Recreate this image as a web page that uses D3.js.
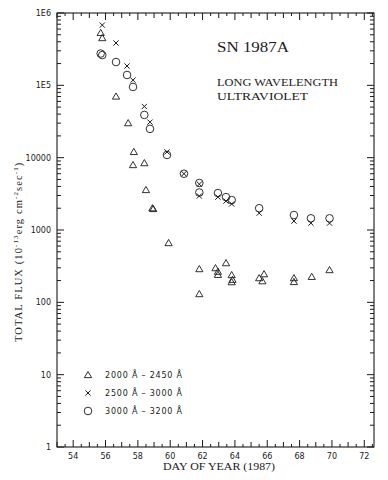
<!DOCTYPE html>
<html>
<head>
<meta charset="utf-8">
<script src="https://cdn.jsdelivr.net/npm/d3@7"></script>
<style>
	body { margin: 0; background: #fff; }
	svg { display: block; }
</style>
</head>
<body>
<svg id="chart" width="388" height="480"></svg>
<script>

// values
const days2000 = [55.7, 55.8, 56.65, 57.4, 57.75, 57.7, 58.4, 58.5, 58.9, 58.95, 59.9, 61.8, 61.8, 62.8, 62.95, 62.95, 63.45, 63.8, 63.85, 63.8, 65.5, 65.7, 65.8, 67.65, 67.65, 68.75, 69.85];
const flux2000 = [530000, 450000, 70000, 30000, 12000, 7900, 8400, 3570, 2000, 1950, 660, 288, 130, 297, 265, 240, 348, 238, 205, 190, 216, 196, 245, 216, 191, 225, 279];

const days2500 = [55.8, 56.65, 57.33, 57.7, 58.4, 58.75, 59.8, 60.85, 61.8, 61.8, 62.95, 63.45, 63.8, 65.5, 67.65, 68.7, 69.85];
const flux2500 = [680000, 385000, 185000, 118000, 51000, 31000, 12000, 6000, 4300, 2950, 2850, 2510, 2290, 1710, 1330, 1245, 1245];

const days3000 = [55.7, 55.8, 56.65, 57.33, 57.7, 58.4, 58.75, 59.8, 60.85, 61.8, 61.8, 62.95, 63.45, 63.8, 65.5, 67.65, 68.7, 69.85];
const flux3000 = [275000, 262000, 210000, 139000, 95000, 39000, 25000, 10900, 6000, 4470, 3300, 3240, 2850, 2590, 2000, 1610, 1450, 1450];

const xTickValues = [54, 56, 58, 60, 62, 64, 66, 68, 70, 72];
const yTickValues = [1, 10, 100, 1000, 10000, 1e5, 1e6];
const yTickLabels = ["1", "10", "100", "1000", "10000", "1E5", "1E6"];

const legendLabels = ["2000 \u00c5 \u2013 2450 \u00c5", "2500 \u00c5 \u2013 3000 \u00c5", "3000 \u00c5 \u2013 3200 \u00c5"];
const legendSymbols = ["triangle", "cross", "circle"];

const svg = d3.select("#chart");
const plotLeft = 57, plotRight = 374, plotTop = 13, plotBottom = 447;

const x = d3.scaleLinear().domain([53, 72.6]).range([plotLeft, plotRight]);
const y = d3.scaleLog().domain([1, 1e6]).range([plotBottom, plotTop]);

const ink = "#1a1a1a";
const labelFont = "'DejaVu Sans', sans-serif";
const serifFont = "'Liberation Serif', 'DejaVu Serif', serif";

// frame
svg.append("rect")
	.attr("x", plotLeft).attr("y", plotTop)
	.attr("width", plotRight - plotLeft).attr("height", plotBottom - plotTop)
	.attr("fill", "none").attr("stroke", ink).attr("stroke-width", 1.1);

// x ticks every half day, inward, top and bottom
const xTicks = d3.range(53, 72.6, 0.5);
function xLen(d) {
	if (d % 2 === 0) return 7;
	if (d % 1 === 0) return 5;
	return 3;
}
const xg = svg.append("g").attr("stroke", ink).attr("stroke-width", 1);
xg.selectAll(".xb").data(xTicks).enter().append("line")
	.attr("x1", d => x(d)).attr("x2", d => x(d))
	.attr("y1", plotBottom).attr("y2", d => plotBottom - xLen(d));
xg.selectAll(".xt").data(xTicks).enter().append("line")
	.attr("x1", d => x(d)).attr("x2", d => x(d))
	.attr("y1", plotTop).attr("y2", d => plotTop + xLen(d));

svg.append("g").selectAll("text").data(xTickValues).enter().append("text")
	.attr("x", d => x(d)).attr("y", plotBottom + 12)
	.attr("text-anchor", "middle")
	.attr("font-family", labelFont).attr("font-size", 8).attr("fill", ink)
	.text(d => d);

// y ticks, log minor ticks
const yTicks = [];
for (let e = 0; e < 6; e++) {
	for (let k = 1; k < 10; k++) yTicks.push(k * Math.pow(10, e));
}
yTicks.push(1e6);
function yLen(d) {
	return yTickValues.includes(d) ? 7 : 4;
}
const yg = svg.append("g").attr("stroke", ink).attr("stroke-width", 1);
yg.selectAll(".yl").data(yTicks).enter().append("line")
	.attr("y1", d => y(d)).attr("y2", d => y(d))
	.attr("x1", plotLeft).attr("x2", d => plotLeft + yLen(d));
yg.selectAll(".yr").data(yTicks).enter().append("line")
	.attr("y1", d => y(d)).attr("y2", d => y(d))
	.attr("x1", plotRight).attr("x2", d => plotRight - yLen(d));

svg.append("g").selectAll("text").data(yTickValues).enter().append("text")
	.attr("x", plotLeft - 6).attr("y", d => y(d) + 3)
	.attr("text-anchor", "end")
	.attr("font-family", labelFont).attr("font-size", 8).attr("fill", ink)
	.text((d, i) => yTickLabels[i]);

// symbols
function drawSymbol(g, kind, cx, cy) {
	if (kind === "triangle") {
		g.append("path")
			.attr("d", `M${cx},${cy - 3.6}L${cx + 3.6},${cy + 2.6}L${cx - 3.6},${cy + 2.6}Z`)
			.attr("fill", "none").attr("stroke", ink).attr("stroke-width", 0.9);
	} else if (kind === "cross") {
		g.append("path")
			.attr("d", `M${cx - 2.6},${cy - 2.6}L${cx + 2.6},${cy + 2.6}M${cx - 2.6},${cy + 2.6}L${cx + 2.6},${cy - 2.6}`)
			.attr("fill", "none").attr("stroke", ink).attr("stroke-width", 1);
	} else {
		g.append("circle")
			.attr("cx", cx).attr("cy", cy).attr("r", 3.8)
			.attr("fill", "none").attr("stroke", ink).attr("stroke-width", 0.9);
	}
}

const marks = svg.append("g");
days2000.forEach((d, i) => drawSymbol(marks, "triangle", x(d), y(flux2000[i])));
days2500.forEach((d, i) => drawSymbol(marks, "cross", x(d), y(flux2500[i])));
days3000.forEach((d, i) => drawSymbol(marks, "circle", x(d), y(flux3000[i])));

// legend
const legend = svg.append("g");
legendLabels.forEach((lab, i) => {
	const ly = 375 + i * 18;
	drawSymbol(legend, legendSymbols[i], 88, ly);
	legend.append("text")
		.attr("x", 105).attr("y", ly + 3)
		.attr("font-family", labelFont).attr("font-size", 8).attr("fill", ink)
		.attr("textLength", 77).attr("lengthAdjust", "spacing")
		.text(lab);
});

// titles
svg.append("text")
	.attr("x", 217).attr("y", 52)
	.attr("font-family", serifFont).attr("font-size", 14).attr("fill", ink)
	.attr("textLength", 72).attr("lengthAdjust", "spacingAndGlyphs")
	.text("SN 1987A");
svg.append("text")
	.attr("x", 217).attr("y", 86)
	.attr("font-family", serifFont).attr("font-size", 10).attr("fill", ink)
	.attr("textLength", 121).attr("lengthAdjust", "spacingAndGlyphs")
	.text("LONG WAVELENGTH");
svg.append("text")
	.attr("x", 217).attr("y", 100)
	.attr("font-family", serifFont).attr("font-size", 10).attr("fill", ink)
	.attr("textLength", 91).attr("lengthAdjust", "spacingAndGlyphs")
	.text("ULTRAVIOLET");

// axis titles
svg.append("text")
	.attr("x", 163).attr("y", 470)
	.attr("font-family", serifFont).attr("font-size", 10).attr("fill", ink)
	.attr("textLength", 112).attr("lengthAdjust", "spacingAndGlyphs")
	.text("DAY OF YEAR (1987)");

const ylab = svg.append("text")
	.attr("transform", "translate(22,342) rotate(-90)")
	.attr("font-family", serifFont).attr("font-size", 10.5).attr("fill", ink)
	.attr("letter-spacing", 1.1);
ylab.append("tspan").text("TOTAL FLUX (10");
ylab.append("tspan").attr("dy", -4).attr("font-size", 7).text("-13");
ylab.append("tspan").attr("dy", 4).text("erg cm");
ylab.append("tspan").attr("dy", -4).attr("font-size", 7).text("-2");
ylab.append("tspan").attr("dy", 4).text("sec");
ylab.append("tspan").attr("dy", -4).attr("font-size", 7).text("-1");
ylab.append("tspan").attr("dy", 4).text(")");

</script>
</body>
</html>
